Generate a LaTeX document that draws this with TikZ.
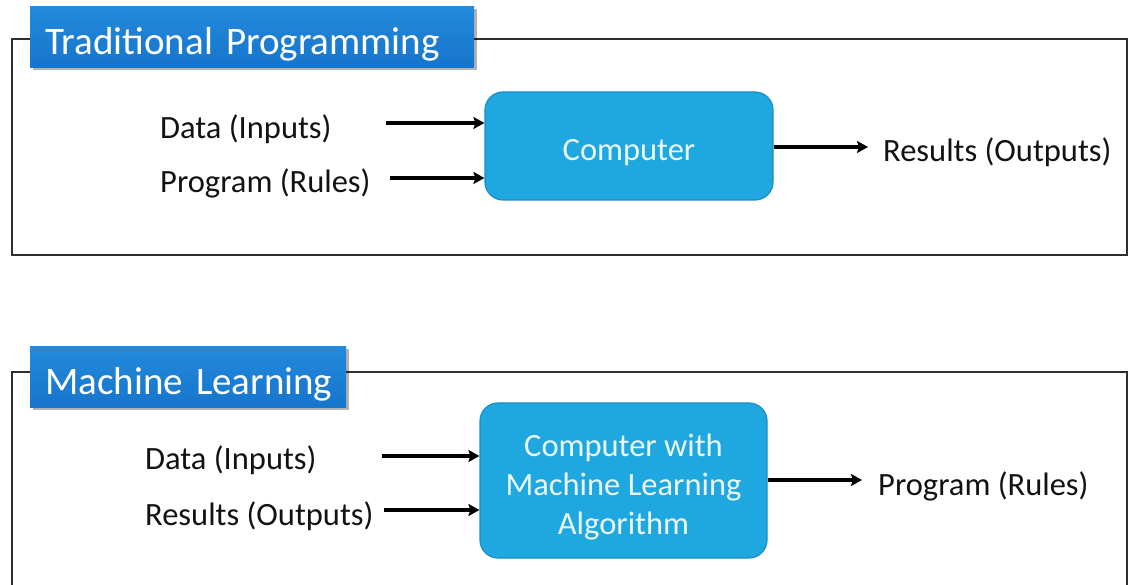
\documentclass[tikz,border=0pt]{standalone}
\usepackage{fontspec}
\setmainfont{Carlito}
\usetikzlibrary{arrows.meta,shadows}

\definecolor{titletop}{HTML}{238ADC}
\definecolor{titlebot}{HTML}{1675CC}
\definecolor{boxblue}{HTML}{1FA8E0}
\definecolor{boxedge}{HTML}{1A8DC4}
\definecolor{boxtext}{HTML}{EAF7FD}
\definecolor{framegray}{HTML}{2E2E2E}
\definecolor{labelink}{HTML}{121212}

% lower the content of a box without changing its reported size
\newcommand{\lowertext}[1]{\raisebox{-7pt}[\height][\depth]{#1}}

\begin{document}
\begin{tikzpicture}[x=1pt,y=-1pt,
  frame/.style={draw=framegray,line width=1.6pt},
  titlebox/.style={top color=titletop,bottom color=titlebot,draw=none,text=white,
    anchor=north west,inner xsep=15pt,inner ysep=0pt,align=left,
    text height=48.5pt,text depth=12.5pt,
    font=\fontsize{39}{44}\selectfont,
    drop shadow={shadow xshift=2.5pt,shadow yshift=-2.5pt,opacity=0.3,fill=black}},
  procbox/.style={fill=boxblue,draw=boxedge,line width=1.2pt,rounded corners=18pt,
    text=boxtext,inner sep=0pt,
    font=\fontsize{32.5}{39}\selectfont},
  label/.style={anchor=base west,inner sep=0pt,text=labelink,
    font=\fontsize{32.5}{39}\selectfont},
  arr/.style={draw=black,line width=3.3pt,-{Stealth[length=11pt,width=12pt,inset=2pt]}}
]
\clip (0,0) rectangle (1128,585);

% ---- Traditional programming ----
\draw[frame] (12,39) rectangle (1127,255);
\node[titlebox,text width=414pt] (tptitle) at (30,6) {\mbox{Traditional Programming}};

\node[procbox,minimum width=288pt,minimum height=108pt] (comp) at (629,146)
  {\lowertext{Computer}};

\node[label] (tpdata) at (160,139) {Data (Inputs)};
\node[label] (tpprog) at (160,193) {Program (Rules)};
\node[label] (tpres) at (883,162) {Results (Outputs)};

\coordinate (tpa1) at (386,123);
\coordinate (tpa2) at (390,178);
\coordinate (tpo) at (868,147);
\draw[arr] (tpa1) -- (tpa1 -| comp.west);
\draw[arr] (tpa2) -- (tpa2 -| comp.west);
\draw[arr] (comp.east |- tpo) -- (tpo);

% ---- Machine learning ----
\draw[frame] (12,372) rectangle (1127,620);
\node[titlebox,text width=286pt] (mltitle) at (30,346) {\mbox{Machine Learning}};

\node[procbox,minimum width=287pt,minimum height=155pt] (mlcomp) at (623.5,480.5)
  {\lowertext{\begin{tabular}{@{}c@{}}Computer with\\Machine Learning\\Algorithm\end{tabular}}};

\node[label] (mldata) at (145,469) {Data (Inputs)};
\node[label] (mlres) at (145,525) {Results (Outputs)};
\node[label] (mlprog) at (878,495) {Program (Rules)};

\coordinate (mla1) at (382,456);
\coordinate (mla2) at (384,510);
\coordinate (mlo) at (862,480);
\draw[arr] (mla1) -- (mla1 -| mlcomp.west);
\draw[arr] (mla2) -- (mla2 -| mlcomp.west);
\draw[arr] (mlcomp.east |- mlo) -- (mlo);
\end{tikzpicture}
\end{document}
